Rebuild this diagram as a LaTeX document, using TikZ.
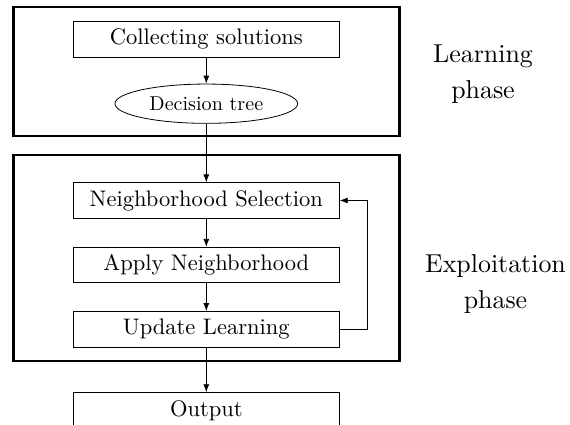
\documentclass[tikz,border=0pt]{standalone}
\usetikzlibrary{arrows.meta,shapes.geometric}
\begin{document}
\begin{tikzpicture}[x=1pt,y=-1pt,
  stepbox/.style={draw,line width=0.8pt,rectangle,minimum width=266pt,minimum height=35.5pt,inner sep=0pt},
  ellbox/.style={draw,line width=0.8pt,ellipse,minimum width=182.7pt,minimum height=39.3pt,inner sep=0pt},
  phasebox/.style={line width=2.4pt},
  phaselabel/.style={align=center,font=\fontsize{10}{13.9}\selectfont,inner sep=0pt,scale=2.59,transform shape},
  conn/.style={line width=0.8pt,-{Latex[length=8pt,width=6pt]}}]
\useasboundingbox (0,0) rectangle (570,425);
\clip (0,0) rectangle (570,425);
\draw[phasebox] (13.5,7.3) rectangle (399.5,136);
\draw[phasebox] (13.5,155) rectangle (399.5,361);
\node[stepbox] (collect) at (206.3,39.3) {\scalebox{2.25}{Collecting solutions}};
\node[ellbox] (tree) at (206.3,103.7) {\scalebox{2.01}{Decision tree}};
\node[stepbox] (select) at (206.3,200.5) {\scalebox{2.25}{Neighborhood Selection}};
\node[stepbox] (apply) at (206.3,265) {\scalebox{2.25}{Apply Neighborhood}};
\node[stepbox] (update) at (206.3,329.2) {\scalebox{2.25}{Update Learning}};
\node[stepbox] (output) at (206.3,410.4) {\scalebox{2.25}{Output}};
\coordinate (loop) at (367.7,329.2);
\draw[conn] (collect) -- (tree);
\draw[conn] (tree) -- (select);
\draw[conn] (select) -- (apply);
\draw[conn] (apply) -- (update);
\draw[conn] (update) -- (output);
\draw[conn] (update.east) -- (loop) |- (select.east);
\node[phaselabel,anchor=base] (learn) at (483,98.3) {Learning\\phase};
\node[phaselabel,anchor=base] (exploit) at (495.5,308.3) {Exploitation\\phase};
\end{tikzpicture}
\end{document}
